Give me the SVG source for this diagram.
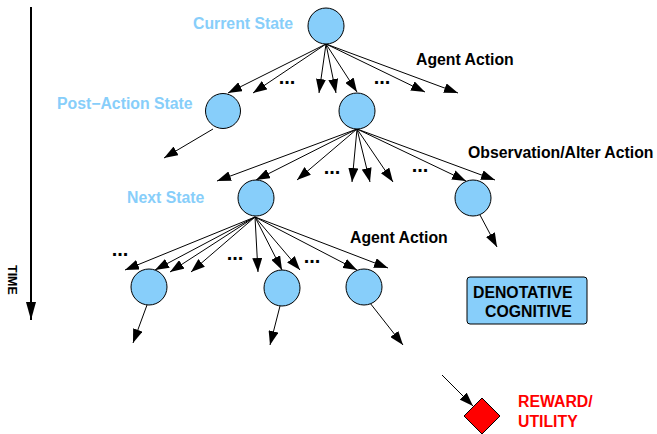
<svg xmlns="http://www.w3.org/2000/svg" width="657" height="434" viewBox="0 0 657 434">
<style>
.node{fill:#87CEFA;stroke:#000;stroke-width:1}
.edge{stroke:#000;stroke-width:1;fill:none;marker-end:url(#ah)}
.lbl{font-family:"Liberation Sans",Arial,sans-serif;font-weight:bold;font-size:15.8px}
.state{fill:#87CEFA}
.act{fill:#000}
.dots{font-family:"Liberation Sans",Arial,sans-serif;font-weight:bold;font-size:20px;fill:#000;text-anchor:middle}
.rew{fill:#FF0000}
</style>
<defs>
<marker id="ah" markerUnits="userSpaceOnUse" markerWidth="14" markerHeight="10" viewBox="0 0 14 10" refX="14" refY="5" orient="auto">
<path d="M0,0 L14,5 L0,10 Z" fill="#000"/>
</marker>
<marker id="ahT" markerUnits="userSpaceOnUse" markerWidth="18" markerHeight="10" viewBox="0 0 18 10" refX="18" refY="5" orient="auto">
<path d="M0,0 L18,5 L0,10 Z" fill="#000"/>
</marker>
</defs>
<rect width="657" height="434" fill="#fff"/>

<g id="time-axis">
<line x1="31" y1="7" x2="31" y2="320" stroke="#000" stroke-width="2" marker-end="url(#ahT)"/>
<text class="lbl act" style="font-size:12.5px" transform="translate(8,265) rotate(90)">TIME</text>
</g>

<g id="connectors">
<line class="edge" x1="326" y1="44" x2="228" y2="93"/>
<line class="edge" x1="326" y1="44" x2="253" y2="93"/>
<line class="edge" x1="326" y1="44" x2="319" y2="93"/>
<line class="edge" x1="326" y1="44" x2="336" y2="93"/>
<line class="edge" x1="326" y1="44" x2="357" y2="92"/>
<line class="edge" x1="326" y1="44" x2="425" y2="92"/>
<line class="edge" x1="326" y1="44" x2="458" y2="93"/>
<line class="edge" x1="213" y1="129" x2="164" y2="158"/>
<line class="edge" x1="357" y1="129" x2="217" y2="181"/>
<line class="edge" x1="357" y1="129" x2="256" y2="180"/>
<line class="edge" x1="357" y1="129" x2="297" y2="180"/>
<line class="edge" x1="357" y1="129" x2="352" y2="182"/>
<line class="edge" x1="357" y1="129" x2="370" y2="182"/>
<line class="edge" x1="357" y1="129" x2="393" y2="182"/>
<line class="edge" x1="357" y1="129" x2="466" y2="181"/>
<line class="edge" x1="357" y1="129" x2="495" y2="180"/>
<line class="edge" x1="480" y1="215" x2="497" y2="247"/>
<line class="edge" x1="255" y1="217" x2="125" y2="270"/>
<line class="edge" x1="255" y1="217" x2="155" y2="270"/>
<line class="edge" x1="255" y1="217" x2="170" y2="272"/>
<line class="edge" x1="255" y1="217" x2="191" y2="272"/>
<line class="edge" x1="255" y1="217" x2="258" y2="272"/>
<line class="edge" x1="255" y1="217" x2="282" y2="270"/>
<line class="edge" x1="255" y1="217" x2="300" y2="270"/>
<line class="edge" x1="255" y1="217" x2="357" y2="270"/>
<line class="edge" x1="255" y1="217" x2="388" y2="268"/>
<line class="edge" x1="147" y1="305" x2="133" y2="343"/>
<line class="edge" x1="280" y1="306" x2="270" y2="345"/>
<line class="edge" x1="370" y1="303" x2="403" y2="345"/>
<line class="edge" x1="442" y1="375" x2="473" y2="406"/>
</g>

<g id="dots">
<text class="dots" x="287" y="84">...</text>
<text class="dots" x="382" y="84">...</text>
<text class="dots" x="332" y="174">...</text>
<text class="dots" x="420" y="172">...</text>
<text class="dots" x="120" y="256">...</text>
<text class="dots" x="235" y="260">...</text>
<text class="dots" x="312" y="263">...</text>
</g>

<g id="current-state">
<circle class="node" cx="326" cy="26" r="18"/>
<text class="lbl state" x="193" y="29">Current State</text>
</g>
<g id="post-action-state">
<circle class="node" cx="223" cy="111" r="17.5"/>
<text class="lbl state" x="57" y="109">Post−Action State</text>
</g>
<g id="post-action-state-2">
<circle class="node" cx="357" cy="111" r="18"/>
</g>
<g id="observation-node">
<circle class="node" cx="473" cy="198" r="18"/>
</g>
<g id="next-state">
<circle class="node" cx="256" cy="198" r="18"/>
<text class="lbl state" x="127" y="203">Next State</text>
</g>
<g id="bottom-node-1">
<circle class="node" cx="149" cy="287" r="18"/>
</g>
<g id="bottom-node-2">
<circle class="node" cx="282" cy="288" r="18"/>
</g>
<g id="bottom-node-3">
<circle class="node" cx="364" cy="287" r="18"/>
</g>

<g id="labels">
<text class="lbl act" x="416" y="65">Agent Action</text>
<text class="lbl act" x="468" y="158">Observation/Alter Action</text>
<text class="lbl act" x="350" y="243">Agent Action</text>
</g>

<g id="denotative-cognitive">
<rect x="467" y="277" width="120" height="47" rx="3" ry="3" fill="#87CEFA" stroke="#000" stroke-width="1"/>
<text class="lbl act" x="473" y="298">DENOTATIVE</text>
<text class="lbl act" x="485" y="317">COGNITIVE</text>
</g>

<g id="reward-utility">
<polygon points="482,398 500,416 482,434 464,416" fill="#FF0000" stroke="#000" stroke-width="1"/>
<text class="lbl rew" x="518" y="407">REWARD/</text>
<text class="lbl rew" x="518" y="427">UTILITY</text>
</g>
</svg>
